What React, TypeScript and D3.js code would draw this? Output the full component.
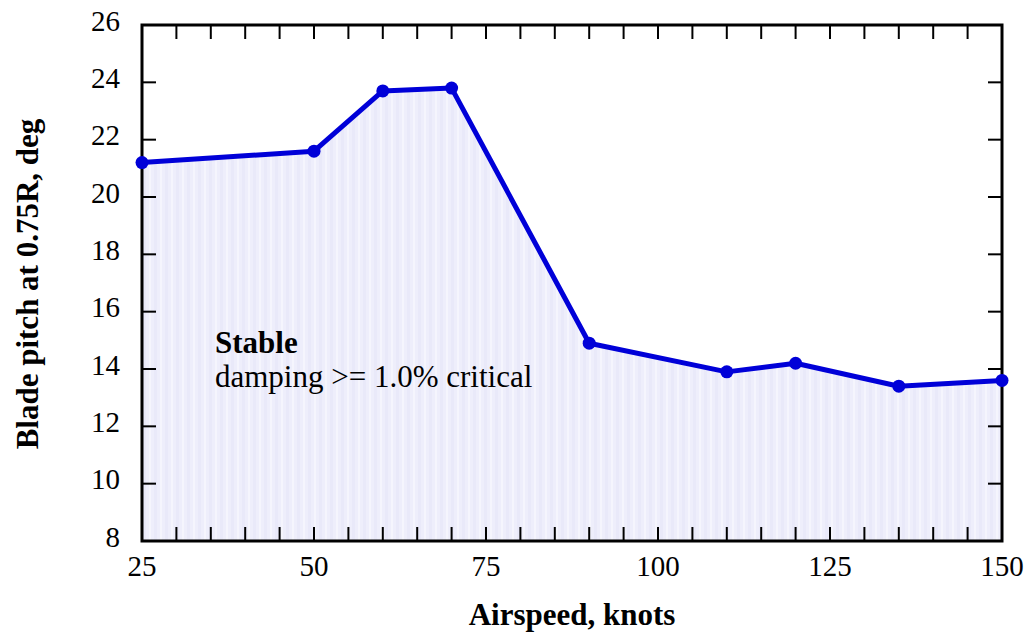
import React from "react";
import * as d3 from "d3";

const airspeed = [25, 50, 60, 70, 90, 110, 120, 135, 150];
const pitch = [21.2, 21.6, 23.7, 23.8, 14.9, 13.9, 14.2, 13.4, 13.6];
const xTicks = [25, 50, 75, 100, 125, 150];
const xMinorTicks = d3.range(25, 151, 5);
const yTicks = [8, 10, 12, 14, 16, 18, 20, 22, 24, 26];

const W = 1024, H = 633;
const L = 142, R = 1002, T = 25, B = 541;
const FONT = "'Liberation Serif', 'Times New Roman', serif";
const BLUE = "#0000d8";

export default function App() {
  const x = d3.scaleLinear().domain([25, 150]).range([L, R]);
  const y = d3.scaleLinear().domain([8, 26]).range([B, T]);
  const pts = airspeed.map((a, i) => [a, pitch[i]] as [number, number]);
  const line = d3.line<[number, number]>().x(d => x(d[0])).y(d => y(d[1]));
  const area = d3.area<[number, number]>().x(d => x(d[0])).y0(y(8)).y1(d => y(d[1]));
  const tl = 14;
  return (
    <svg width={W} height={H} style={{ position: "absolute", left: 0, top: 0, background: "#fff" }}>
      <defs>
        <pattern id="stripes" patternUnits="userSpaceOnUse" width={11} height={8}>
          <rect width={11} height={8} fill="#eeeefb" />
          <rect x={0} width={3} height={8} fill="#e9e9f9" />
          <rect x={6} width={2} height={8} fill="#f5f5fd" />
        </pattern>
      </defs>
      <path d={area(pts) || ""} fill="url(#stripes)" />
      {xMinorTicks.map(v => (
        <g key={"xt" + v}>
          <line x1={x(v)} x2={x(v)} y1={B} y2={B - tl} stroke="#000" strokeWidth={2} />
          <line x1={x(v)} x2={x(v)} y1={T} y2={T + tl} stroke="#000" strokeWidth={2} />
        </g>
      ))}
      {yTicks.map(v => (
        <g key={"yt" + v}>
          <line x1={L} x2={L + tl} y1={y(v)} y2={y(v)} stroke="#000" strokeWidth={2} />
          <line x1={R} x2={R - tl} y1={y(v)} y2={y(v)} stroke="#000" strokeWidth={2} />
        </g>
      ))}
      <rect x={L} y={T} width={R - L} height={B - T} fill="none" stroke="#000" strokeWidth={3} />
      <path d={line(pts) || ""} fill="none" stroke={BLUE} strokeWidth={5} strokeLinejoin="round" />
      {pts.map((p, i) => (
        <circle key={i} cx={x(p[0])} cy={y(p[1])} r={6.5} fill={BLUE} />
      ))}
      {xTicks.map(v => (
        <text key={"xl" + v} x={x(v)} y={576} textAnchor="middle" fontFamily={FONT} fontSize={29} fill="#000">{v}</text>
      ))}
      {yTicks.map(v => (
        <text key={"yl" + v} x={120} y={y(v) + 5.5} textAnchor="end" fontFamily={FONT} fontSize={29} fill="#000">{v}</text>
      ))}
      <text x={572} y={625} textAnchor="middle" fontFamily={FONT} fontSize={31} fontWeight="bold" fill="#000">Airspeed, knots</text>
      <text transform={`translate(38, 284) rotate(-90)`} textAnchor="middle" fontFamily={FONT} fontSize={31} fontWeight="bold" fill="#000">Blade pitch at 0.75R, deg</text>
      <text x={215} y={353} fontFamily={FONT} fontSize={31} fontWeight="bold" fill="#000">Stable</text>
      <text x={215} y={387} fontFamily={FONT} fontSize={31} fill="#000">damping &gt;= 1.0% critical</text>
    </svg>
  );
}
